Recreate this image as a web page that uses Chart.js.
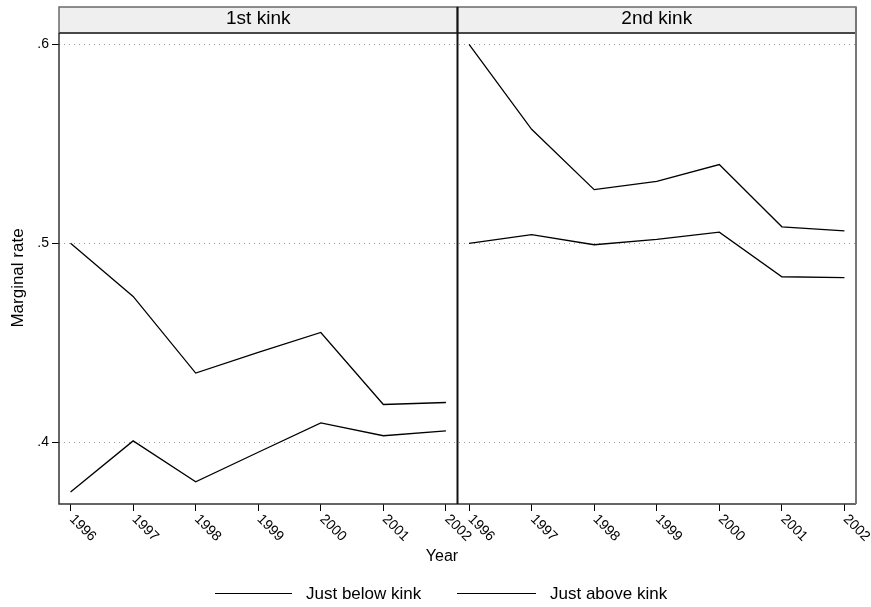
<!DOCTYPE html>
<html>
<head>
<meta charset="utf-8">
<script src="https://cdn.jsdelivr.net/npm/chart.js@4.4.0/dist/chart.umd.min.js"></script>
<style>
html,body{margin:0;padding:0;background:#fff;}
#wrap{position:absolute;left:0;top:0;width:871px;height:607px;}
</style>
</head>
<body>
<div id="wrap"><canvas id="c" width="871" height="607"></canvas></div>
<script>
const years = [1996, 1997, 1998, 1999, 2000, 2001, 2002];
const panelTitles = ['1st kink', '2nd kink'];
const seriesNames = ['Just below kink', 'Just above kink'];
const kink1Below = [0.500, 0.4733, 0.4348, 0.4452, 0.4552, 0.4190, 0.4200];
const kink1Above = [0.3750, 0.4007, 0.3802, 0.3950, 0.4098, 0.4033, 0.4057];
const kink2Below = [0.600, 0.5573, 0.5270, 0.5311, 0.5396, 0.5083, 0.5063];
const kink2Above = [0.500, 0.5044, 0.4993, 0.5020, 0.5056, 0.4832, 0.4828];
const yTicks = [0.4, 0.5, 0.6];
const yTickLabels = ['.4', '.5', '.6'];
const xTitle = 'Year';
const yTitle = 'Marginal rate';

const FONT = '"Liberation Sans", Arial, Helvetica, sans-serif';
const pts = arr => years.map((y, i) => ({x: y, y: arr[i]}));

function lineDs(label, arr, xid) {
  return {label, data: pts(arr), xAxisID: xid, yAxisID: 'y',
    borderColor: '#000', borderWidth: 1.3, pointRadius: 0, fill: false, tension: 0};
}

function xScale() {
  return {
    type: 'linear', position: 'bottom', stack: 'panels', stackWeight: 1,
    min: 1995.815, max: 2002.185,
    afterBuildTicks: s => { s.ticks = years.map(v => ({value: v})); },
    afterFit: s => { s.height = 103; },
    ticks: {display: false},
    grid: {display: true, drawOnChartArea: false, drawTicks: true, tickLength: 7, tickColor: '#000', tickWidth: 1},
    border: {display: false}
  };
}

const decor = {
  id: 'decor',
  afterDraw(chart) {
    const ctx = chart.ctx;
    const a = chart.chartArea;
    const xs = [chart.scales.x1, chart.scales.x2];
    ctx.save();
    // headers
    xs.forEach((s, i) => {
      ctx.fillStyle = '#efefef';
      ctx.fillRect(s.left, 7, s.right - s.left, a.top - 7);
      ctx.strokeStyle = '#6a6a6a';
      ctx.lineWidth = 1.5;
      ctx.strokeRect(s.left, 7, s.right - s.left, a.top - 7);
      ctx.fillStyle = '#000';
      ctx.font = '19px ' + FONT;
      ctx.textAlign = 'center';
      ctx.textBaseline = 'middle';
      ctx.fillText(panelTitles[i], (s.left + s.right) / 2, 19);
    });
    // frames
    ctx.lineWidth = 1.5;
    ctx.strokeStyle = '#333';
    ctx.beginPath();
    ctx.moveTo(a.left, a.top); ctx.lineTo(a.left, a.bottom); ctx.lineTo(a.right, a.bottom);
    ctx.moveTo(a.left, a.top); ctx.lineTo(a.right, a.top);
    ctx.stroke();
    ctx.strokeStyle = '#111';
    ctx.lineWidth = 2;
    ctx.beginPath();
    ctx.moveTo(xs[0].right, 7); ctx.lineTo(xs[0].right, a.bottom);
    ctx.stroke();
    ctx.strokeStyle = '#777';
    ctx.lineWidth = 2;
    ctx.beginPath();
    ctx.moveTo(a.right, 7); ctx.lineTo(a.right, a.bottom);
    ctx.stroke();
    // rotated x tick labels
    ctx.fillStyle = '#000';
    ctx.font = '14px ' + FONT;
    ctx.textAlign = 'left';
    ctx.textBaseline = 'top';
    xs.forEach(s => {
      years.forEach(v => {
        const px = s.getPixelForValue(v);
        ctx.save();
        ctx.translate(px + 6, a.bottom + 8);
        ctx.rotate(Math.PI / 4);
        ctx.fillText(String(v), 0, 0);
        ctx.restore();
      });
    });
    // axis titles
    ctx.font = '16px ' + FONT;
    ctx.textAlign = 'center';
    ctx.textBaseline = 'middle';
    ctx.fillText(xTitle, 442, 557);
    ctx.save();
    ctx.translate(18, 278);
    ctx.rotate(-Math.PI / 2);
    ctx.font = '17px ' + FONT;
    ctx.fillText(yTitle, 0, 0);
    ctx.restore();
    // legend
    const items = [{x0: 215, x1: 292, tx: 306}, {x0: 457, x1: 536, tx: 550}];
    ctx.font = '17px ' + FONT;
    ctx.textAlign = 'left';
    items.forEach((it, i) => {
      const ds = chart.data.datasets[i];
      ctx.strokeStyle = ds.borderColor;
      ctx.lineWidth = 1;
      ctx.beginPath();
      ctx.moveTo(it.x0, 593.5); ctx.lineTo(it.x1, 593.5);
      ctx.stroke();
      ctx.fillStyle = '#000';
      ctx.fillText(seriesNames[i], it.tx, 594);
    });
    ctx.restore();
  }
};

new Chart(document.getElementById('c'), {
  type: 'line',
  data: {
    datasets: [
      lineDs(seriesNames[0], kink1Below, 'x1'),
      lineDs(seriesNames[1], kink1Above, 'x1'),
      lineDs(seriesNames[0], kink2Below, 'x2'),
      lineDs(seriesNames[1], kink2Above, 'x2')
    ]
  },
  options: {
    responsive: false,
    animation: false,
    devicePixelRatio: 1,
    layout: {padding: {top: 33, right: 15, left: 0, bottom: 0}},
    plugins: {legend: {display: false}, tooltip: {enabled: false}},
    scales: {
      x1: xScale(),
      x2: xScale(),
      y: {
        type: 'linear', position: 'left',
        min: 0.369, max: 0.6057,
        afterBuildTicks: s => { s.ticks = yTicks.map(v => ({value: v})); },
        afterFit: s => { s.width = 59; },
        ticks: {
          color: '#000', font: {family: FONT, size: 14}, padding: 3,
          callback: v => { const i = yTicks.findIndex(t => Math.abs(t - v) < 1e-9); return i >= 0 ? yTickLabels[i] : ''; }
        },
        grid: {color: '#999', lineWidth: 1, drawTicks: true, tickLength: 7, tickColor: '#000', tickWidth: 1},
        border: {display: false, dash: [1, 4]}
      }
    }
  },
  plugins: [decor]
});
</script>
</body>
</html>
